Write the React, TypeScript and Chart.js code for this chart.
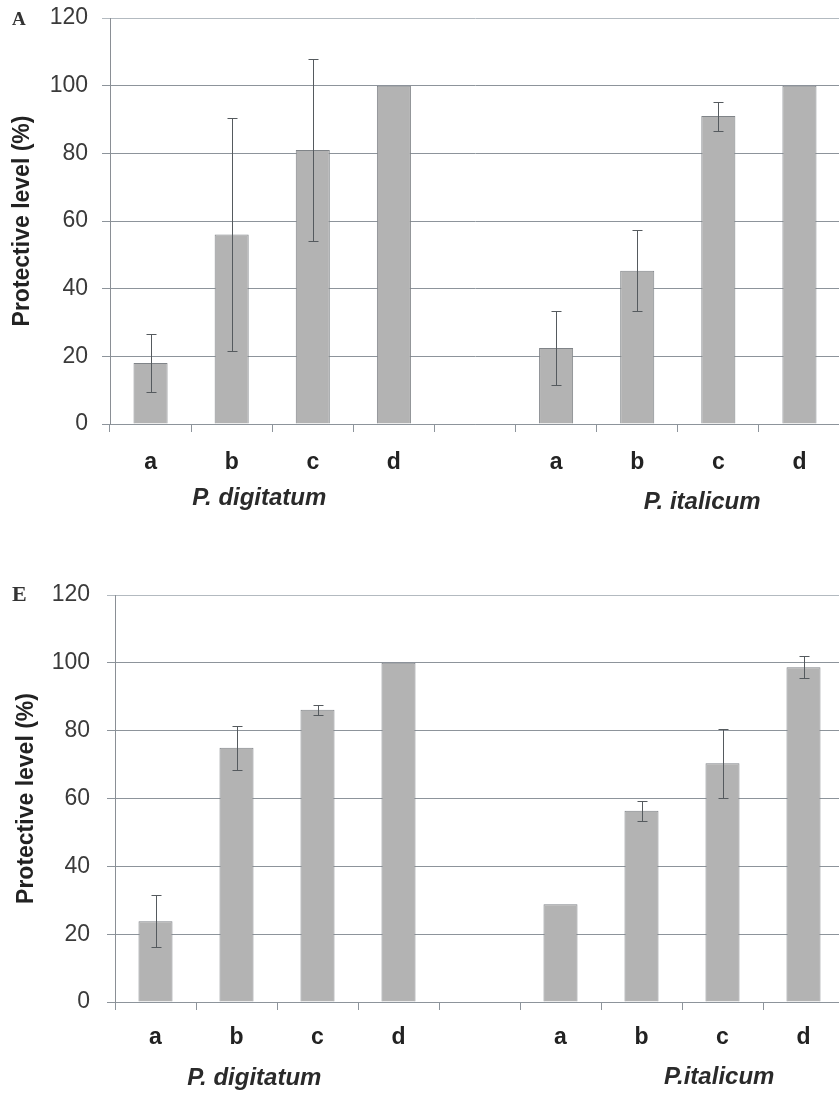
import { useEffect, useRef } from 'react';
import { Chart, registerables } from 'chart.js';

Chart.register(...registerables);

// ---------- data ----------
const categories = ['a', 'b', 'c', 'd', '', 'a', 'b', 'c', 'd'];
const yTickValues = [0, 20, 40, 60, 80, 100, 120];

const panelAValues = [18, 56, 81, 100, null, 22.5, 45.3, 91, 100];
const panelAErrors = [8.5, 34.5, 27, 0, null, 11, 12, 4.3, 0];
const panelAGroups = ['P. digitatum', 'P. italicum'];

const panelEValues = [23.8, 75, 86.2, 100, null, 28.8, 56.4, 70.4, 98.7];
const panelEErrors = [7.7, 6.5, 1.5, 0, null, 0, 3, 10.2, 3.3];
const panelEGroups = ['P. digitatum', 'P.italicum'];

const yTitle = 'Protective level (%)';

const FONT = "'Liberation Sans', Arial, sans-serif";
const GRID = '#8d949b';

const errorBarPlugin = {
  id: 'errorBars',
  afterDatasetsDraw(chart: any, _args: any, opts: any) {
    const errs: (number | null)[] = opts.errors || [];
    const vals = chart.data.datasets[0].data as (number | null)[];
    const xs = chart.scales.x;
    const ys = chart.scales.y;
    const ctx = chart.ctx;
    ctx.save();
    ctx.strokeStyle = '#555a5e';
    ctx.lineWidth = 1;
    vals.forEach((v, i) => {
      const e = errs[i];
      if (v == null || !e) return;
      const px = Math.round(xs.getPixelForValue(i)) + 0.5;
      const top = Math.round(ys.getPixelForValue(v + e)) + 0.5;
      const bot = Math.round(ys.getPixelForValue(v - e)) + 0.5;
      ctx.beginPath();
      ctx.moveTo(px, top);
      ctx.lineTo(px, bot);
      ctx.moveTo(px - 5, top);
      ctx.lineTo(px + 5, top);
      ctx.moveTo(px - 5, bot);
      ctx.lineTo(px + 5, bot);
      ctx.stroke();
    });
    ctx.restore();
  },
};

const groupLabelPlugin = {
  id: 'groupLabels',
  afterDraw(chart: any, _args: any, opts: any) {
    const labels: string[] = opts.labels || [];
    const pos: number[] = opts.positions || [];
    const base: number[] = opts.baselines || [];
    const xs = chart.scales.x;
    const ctx = chart.ctx;
    ctx.save();
    ctx.font = `italic bold 24px ${FONT}`;
    ctx.fillStyle = '#2a2a2a';
    ctx.textAlign = 'center';
    ctx.textBaseline = 'alphabetic';
    labels.forEach((t, i) => {
      ctx.fillText(t, xs.getPixelForValue(pos[i]), base[i]);
    });
    ctx.restore();
  },
};

type PanelCfg = {
  values: (number | null)[];
  errors: (number | null)[];
  groups: string[];
  groupPos: number[];
  groupBase: number[];
  height: number;
  padTop: number;
  padRight: number;
  yWidth: number;
  xHeight: number;
  titlePad: number;
  tickPad: number;
  xTickPad: number;
};

function Panel({ cfg }: { cfg: PanelCfg }) {
  const ref = useRef<HTMLCanvasElement | null>(null);
  useEffect(() => {
    if (!ref.current) return;
    const chart = new Chart(ref.current, {
      type: 'bar',
      data: {
        labels: categories,
        datasets: [
          {
            data: cfg.values as any,
            backgroundColor: '#b3b3b3',
            borderColor: '#808488',
            borderWidth: 1,
            categoryPercentage: 1,
            barPercentage: 0.42,
          },
        ],
      },
      plugins: [errorBarPlugin, groupLabelPlugin],
      options: {
        animation: false,
        responsive: false,
        maintainAspectRatio: false,
        devicePixelRatio: 1,
        layout: { padding: { left: 0, right: cfg.padRight, top: cfg.padTop, bottom: 0 } },
        plugins: {
          legend: { display: false },
          tooltip: { enabled: false },
          errorBars: { errors: cfg.errors },
          groupLabels: { labels: cfg.groups, positions: cfg.groupPos, baselines: cfg.groupBase },
        } as any,
        scales: {
          x: {
            type: 'category',
            offset: true,
            grid: {
              offset: true,
              drawOnChartArea: false,
              drawTicks: true,
              tickLength: 8,
              color: GRID,
            },
            border: { display: true, color: GRID, width: 1 },
            ticks: {
              font: { family: FONT, size: 23, weight: 'bold' },
              color: '#222',
              padding: cfg.xTickPad,
              maxRotation: 0,
              autoSkip: false,
            },
            afterFit: (s: any) => {
              s.height = cfg.xHeight;
            },
          },
          y: {
            min: 0,
            max: 120,
            afterBuildTicks: (s: any) => {
              s.ticks = yTickValues.map((v) => ({ value: v }));
            },
            ticks: {
              font: { family: FONT, size: 23 },
              color: '#3a3a3a',
              padding: cfg.tickPad,
            },
            grid: {
              color: (c: any) => (c.tick && c.tick.value === 120 ? '#b3bac0' : GRID),
              tickLength: 8,
              drawTicks: true,
            },
            border: { display: true, color: '#8a8f95', width: 1 },
            title: {
              display: true,
              text: yTitle,
              font: { family: FONT, size: 23, weight: 'bold' },
              color: '#222',
              padding: { top: cfg.titlePad, bottom: 0 },
            },
            afterFit: (s: any) => {
              s.width = cfg.yWidth;
              s.paddingTop = 0;
              s.paddingBottom = 0;
            },
          },
        },
      } as any,
    });
    return () => chart.destroy();
  }, [cfg]);
  return <canvas ref={ref} width={860} height={cfg.height} style={{ display: 'block', width: 860, height: cfg.height }} />;
}

const panelA: PanelCfg = {
  values: panelAValues,
  errors: panelAErrors,
  groups: panelAGroups,
  groupPos: [1.34, 6.8],
  groupBase: [505, 509],
  height: 530,
  padTop: 18,
  padRight: 20,
  yWidth: 110,
  xHeight: 106,
  titlePad: 9,
  tickPad: 14,
  xTickPad: 17,
};

const panelE: PanelCfg = {
  values: panelEValues,
  errors: panelEErrors,
  groups: panelEGroups,
  groupPos: [1.22, 6.96],
  groupBase: [525, 524],
  height: 537,
  padTop: 35,
  padRight: 16,
  yWidth: 115,
  xHeight: 95,
  titlePad: 13,
  tickPad: 17,
  xTickPad: 14,
};

export default function App() {
  return (
    <div
      style={{
        position: 'absolute',
        left: 0,
        top: 0,
        width: 839,
        height: 1097,
        overflow: 'hidden',
        background: '#fff',
      }}
    >
      <div style={{ position: 'absolute', left: 0, top: 0 }}>
        <Panel cfg={panelA} />
      </div>
      <div style={{ position: 'absolute', left: 0, top: 560 }}>
        <Panel cfg={panelE} />
      </div>
      <div
        style={{
          position: 'absolute',
          left: 12,
          top: 9,
          fontFamily: "'Liberation Serif', 'Times New Roman', serif",
          fontWeight: 'bold',
          fontSize: 19,
          lineHeight: 1,
          color: '#333',
        }}
      >
        A
      </div>
      <div
        style={{
          position: 'absolute',
          left: 12,
          top: 583,
          fontFamily: "'Liberation Serif', 'Times New Roman', serif",
          fontWeight: 'bold',
          fontSize: 22,
          lineHeight: 1,
          color: '#333',
        }}
      >
        E
      </div>
    </div>
  );
}
